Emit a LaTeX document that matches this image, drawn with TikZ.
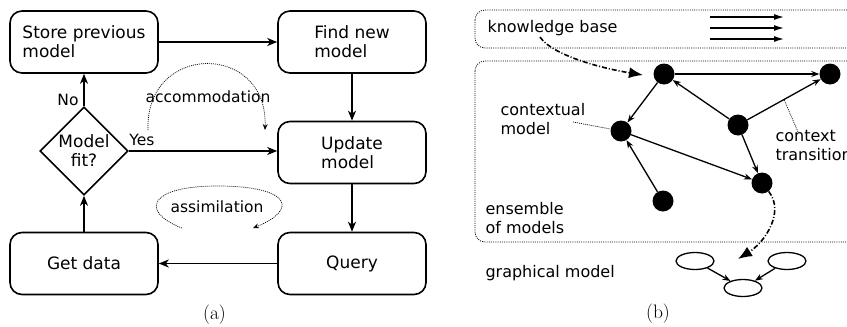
\documentclass[tikz,border=0pt]{standalone}
\usepackage{fontspec}
\newfontfamily\dejavu{DejaVu Sans}
\usetikzlibrary{arrows.meta,shapes.geometric,positioning,calc}

\tikzset{
	procbox/.style={draw, line width=1.6pt, rounded corners=12pt, minimum width=148pt,
		minimum height=62pt, align=left, font=\dejavu\fontsize{17}{19}\selectfont},
	decide/.style={draw, diamond, aspect=1, line width=1.6pt, minimum width=88pt,
		minimum height=88pt, inner sep=0pt, align=center, font=\dejavu\fontsize{17}{19}\selectfont},
	flow/.style={line width=1.6pt, -{Stealth[length=10pt,width=8pt,inset=3pt]}},
	note/.style={font=\dejavu\fontsize{15.5}{18}\selectfont},
	loopy/.style={line width=0.7pt, dash pattern=on 1pt off 1pt, -{Stealth[length=6pt,width=5pt]}},
	ctx/.style={circle, fill=black, minimum size=21pt, inner sep=0pt},
	link/.style={line width=1.3pt, -{Stealth[length=8pt,width=6pt]}},
	gnode/.style={draw, ellipse, line width=1.3pt, minimum width=38pt, minimum height=17pt, inner sep=0pt},
	tag/.style={anchor=west, align=left, font=\dejavu\fontsize{16}{19}\selectfont},
	frame/.style={line width=0.8pt, dash pattern=on 1pt off 1.2pt, rounded corners=10pt},
	jump/.style={line width=1.6pt, dash pattern=on 5pt off 2pt on 1pt off 2pt, -{Latex[length=14pt,width=11pt]}},
	caption/.style={font=\fontsize{19.5}{22}\selectfont}
}

\begin{document}
\begin{tikzpicture}[x=1pt, y=-1pt]
	\useasboundingbox (0,0) rectangle (847,327);

	% (a) the loop of the agent
	\node[procbox] (store) at (84,42) {Store previous\\model};
	\node[procbox] (find) at (352,42) {Find new\\model};
	\node[decide] (fit) at (84,151) {Model\\fit?};
	\node[procbox] (update) at (352,152.5) {Update\\model};
	\node[procbox] (getdata) at (84,263.5) {Get data};
	\node[procbox] (query) at (352,263.5) {Query};

	\draw[flow] (store) -- (find);
	\draw[flow] (find) -- (update);
	\draw[flow] (fit.east) -- (fit.east -| update.west);
	\draw[flow] (fit) -- (store);
	\draw[flow] (update) -- (query);
	\draw[flow] (query) -- (getdata);
	\draw[flow] (getdata) -- (fit);

	\node[note] (yes) at (142,140) {Yes};
	\node[note] (no) at (68,100) {No};

	\coordinate (accstart) at (148,130);
	\coordinate (accend) at (265,130);
	\draw[loopy] (accstart) .. controls (145,42) and (268,42) .. (accend);
	\node[note] (acc) at (208,97) {accommodation};

	\coordinate (assstart) at (182,228);
	\coordinate (assend) at (253,228);
	\draw[loopy] (assstart) .. controls (140,212) and (148,186) .. (217,186)
		.. controls (292,186) and (298,210) .. (assend);
	\node[note] (ass) at (217,207) {assimilation};

	\node[caption] (capa) at (214.5,315) {(a)};

	% (b) the ensemble
	\draw[frame] (475,10) rectangle (870,48);
	\draw[frame] (475,61) rectangle (870,242);
	\node[tag] (kb) at (484,28) {knowledge base};
	\foreach \y in {17,28,39}
		\draw[line width=1.3pt, -{Latex[length=10pt,width=6pt]}] (710,\y) -- (784,\y);

	\node[ctx] (c1) at (664,74) {};
	\node[ctx] (c2) at (830,74) {};
	\node[ctx] (c3) at (621,131) {};
	\node[ctx] (c4) at (738,125) {};
	\node[ctx] (c5) at (762,183) {};
	\node[ctx] (c6) at (663,201) {};

	\foreach \a/\b in {c1/c2, c1/c3, c4/c1, c4/c2, c3/c5, c4/c5, c6/c3}
		\draw[link] (\a) -- (\b);

	\node[tag] (ctxmodel) at (497,119) {contextual\\model};
	\node[tag] (ctxtrans) at (772,145) {context\\transition};
	\node[tag] (ens) at (482,218) {ensemble\\of models};
	\node[tag] (gm) at (482,273) {graphical model};

	\draw[line width=0.7pt, dash pattern=on 1pt off 1pt] (573,122) -- (c3);
	\draw[line width=0.7pt, dash pattern=on 1pt off 1pt] (798,132) -- ($(c4)!0.5!(c2)$);

	\coordinate (kbfoot) at (540,37);
	\coordinate (kbtip) at (643,75);
	\draw[jump] (kbfoot) .. controls (552,55) and (600,68) .. (kbtip);

	\node[gnode] (g1) at (695,261) {};
	\node[gnode] (g2) at (787,261) {};
	\node[gnode] (g3) at (743,288) {};
	\draw[link] (g1) -- (g3);
	\draw[link] (g2) -- (g3);

	\coordinate (gmtip) at (738,259);
	\draw[jump] (c5) .. controls (785,212) and (765,242) .. (gmtip);

	\node[caption] (capb) at (658,314) {(b)};
\end{tikzpicture}
\end{document}
